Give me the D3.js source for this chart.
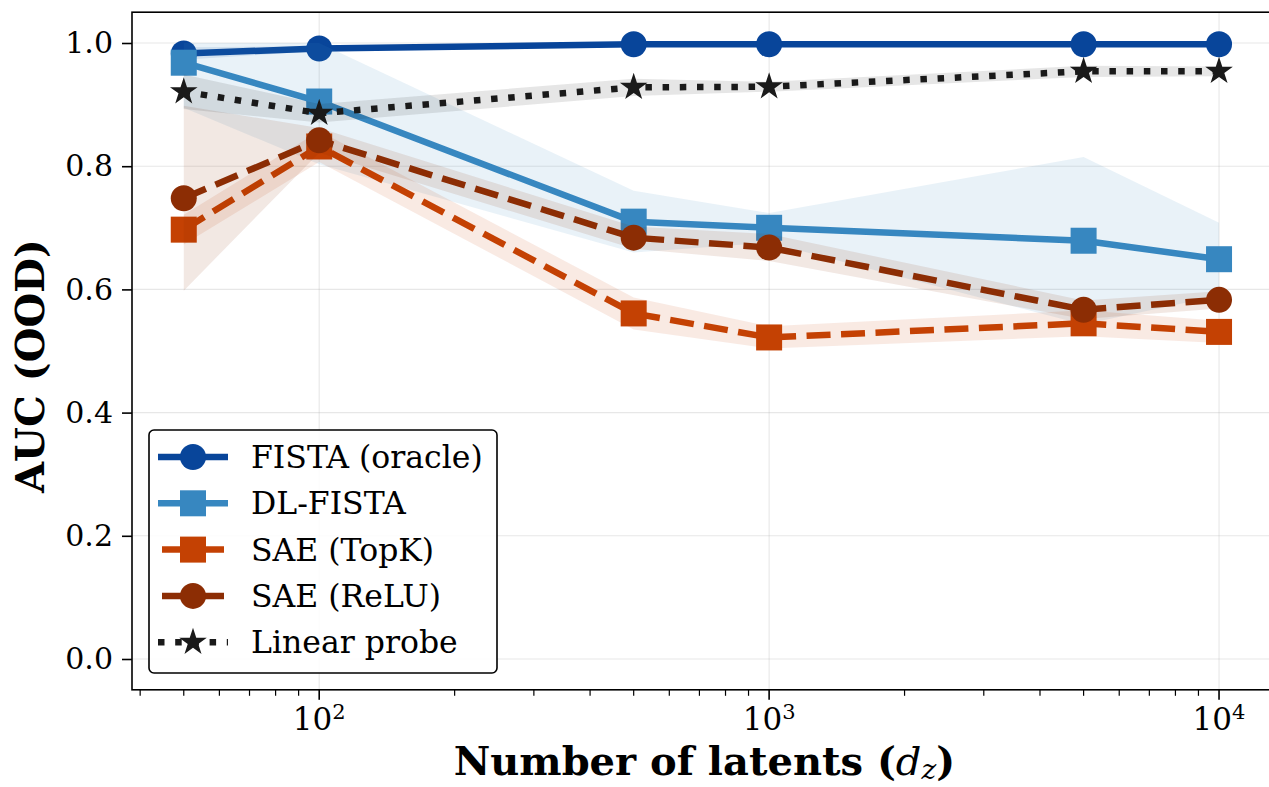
<!DOCTYPE html>
<html>
<head>
<meta charset="utf-8">
<script src="https://cdn.jsdelivr.net/npm/d3@7"></script>
<style>
  html, body { margin: 0; padding: 0; background: #fff; }
  svg { display: block; font-family: "DejaVu Serif", serif; }
</style>
</head>
<body>
<svg id="chart" width="1269" height="787"></svg>
<script>
// Number of latents evaluated
const latents = [50, 100, 500, 1000, 5000, 10000];

// Mean AUC (OOD) per method
const fistaMean  = [0.983, 0.991, 0.998, 0.998, 0.998, 0.998];
const dlMean     = [0.968, 0.905, 0.710, 0.700, 0.679, 0.649];
const topkMean   = [0.697, 0.832, 0.561, 0.522, 0.545, 0.531];
const reluMean   = [0.748, 0.842, 0.684, 0.668, 0.567, 0.583];
const probeMean  = [0.921, 0.886, 0.928, 0.929, 0.954, 0.954];

// Spread (std) per method, shaded around the mean
const fistaStd   = [0.010, 0.004, 0.003, 0.003, 0.003, 0.003];
const dlStd      = [0.073, 0.102, 0.050, 0.024, 0.136, 0.059];
const topkStd    = [0.024, 0.025, 0.026, 0.018, 0.021, 0.018];
const reluStd    = [0.150, 0.020, 0.018, 0.022, 0.015, 0.014];
const probeStd   = [0.028, 0.015, 0.014, 0.008, 0.009, 0.008];

const methodNames = ["FISTA (oracle)", "DL-FISTA", "SAE (TopK)", "SAE (ReLU)", "Linear probe"];
const yTicks = [0.0, 0.2, 0.4, 0.6, 0.8, 1.0];
const xMajorTicks = [100, 1000, 10000];

const series = [
  { name: methodNames[0], mean: fistaMean, std: fistaStd, color: "#08459a", marker: "circle", dash: null },
  { name: methodNames[1], mean: dlMean,    std: dlStd,    color: "#3787c0", marker: "square", dash: null },
  { name: methodNames[2], mean: topkMean,  std: topkStd,  color: "#c44103", marker: "square", dash: "dashed" },
  { name: methodNames[3], mean: reluMean,  std: reluStd,  color: "#8c2d04", marker: "circle", dash: "dashed" },
  { name: methodNames[4], mean: probeMean, std: probeStd, color: "#1a1a1a", marker: "star",   dash: "dotted" }
];

const svg = d3.select("#chart");
const L = 132, R = 1270.8, T = 12.2, B = 689.8;
const lw = 6.5;
const dashArr = { dashed: "24,10.5", dotted: "6.5,10.7" };

// log x with 5% padding in log space, linear y with fixed limits
const lx0 = Math.log10(50), lx1 = Math.log10(10000), pad = 0.05 * (lx1 - lx0);
const x = d3.scaleLog().domain([Math.pow(10, lx0 - pad), Math.pow(10, lx1 + pad)]).range([L, R]);
const y = d3.scaleLinear().domain([-0.05, 1.05]).range([B, T]);

const defs = svg.append("defs");
defs.append("clipPath").attr("id", "plotclip")
  .append("rect").attr("x", L).attr("y", T).attr("width", R - L).attr("height", B - T);

// grid
const grid = svg.append("g").attr("stroke", "#b0b0b0").attr("stroke-opacity", 0.3).attr("stroke-width", 1.1);
yTicks.forEach(v => grid.append("line").attr("x1", L).attr("x2", R).attr("y1", y(v)).attr("y2", y(v)));
xMajorTicks.forEach(v => grid.append("line").attr("x1", x(v)).attr("x2", x(v)).attr("y1", T).attr("y2", B));

const plot = svg.append("g").attr("clip-path", "url(#plotclip)");

function starPath(r) {
  const ri = r * 0.381966;
  const pts = [];
  for (let i = 0; i < 10; i++) {
    const a = -Math.PI / 2 + i * Math.PI / 5;
    const rr = i % 2 === 0 ? r : ri;
    pts.push([rr * Math.cos(a), rr * Math.sin(a)]);
  }
  return "M" + pts.map(p => p[0].toFixed(2) + "," + p[1].toFixed(2)).join("L") + "Z";
}

function drawMarker(g, type, cx, cy, color) {
  if (type === "circle") {
    g.append("circle").attr("cx", cx).attr("cy", cy).attr("r", 13).attr("fill", color);
  } else if (type === "square") {
    g.append("rect").attr("x", cx - 13).attr("y", cy - 13).attr("width", 26).attr("height", 26).attr("fill", color);
  } else {
    g.append("path").attr("transform", `translate(${cx},${cy})`).attr("d", starPath(14.5)).attr("fill", color);
  }
}

const area = d3.area()
  .x(d => x(d.x))
  .y0(d => y(Math.max(0, d.m - d.s)))
  .y1(d => y(Math.min(1, d.m + d.s)));
const line = d3.line().x(d => x(d.x)).y(d => y(d.m));

series.forEach(s => {
  const pts = latents.map((v, i) => ({ x: v, m: s.mean[i], s: s.std[i] }));
  plot.append("path").attr("d", area(pts)).attr("fill", s.color).attr("fill-opacity", 0.11);
  const p = plot.append("path").attr("d", line(pts)).attr("fill", "none")
    .attr("stroke", s.color).attr("stroke-width", lw).attr("stroke-linejoin", "round");
  if (s.dash) p.attr("stroke-dasharray", dashArr[s.dash]);
  pts.forEach(d => drawMarker(plot, s.marker, x(d.x), y(d.m), s.color));
});

// spines
const ax = svg.append("g").attr("stroke", "#000").attr("stroke-width", 1.6).attr("fill", "none");
ax.append("rect").attr("x", L).attr("y", T).attr("width", R - L).attr("height", B - T);

// y ticks
const yAxis = d3.axisLeft(y).tickValues(yTicks).tickFormat(d3.format(".1f")).tickSize(10).tickPadding(9);
const gy = svg.append("g").attr("transform", `translate(${L},0)`).call(yAxis);
gy.select(".domain").remove();
gy.selectAll(".tick line").attr("stroke", "#000").attr("stroke-width", 1.6);
gy.selectAll(".tick text").attr("font-family", "DejaVu Serif").attr("font-size", 30).attr("fill", "#000");

// x ticks (major + minor on log axis)
const minor = [];
for (let e = 1; e <= 4; e++) for (let k = 2; k <= 9; k++) {
  const v = k * Math.pow(10, e);
  if (v >= x.domain()[0] && v <= x.domain()[1]) minor.push(v);
}
const gx = svg.append("g").attr("transform", `translate(0,${B})`);
gx.selectAll("line.minor").data(minor).join("line").attr("class", "minor")
  .attr("x1", d => x(d)).attr("x2", d => x(d)).attr("y1", 0).attr("y2", 6)
  .attr("stroke", "#000").attr("stroke-width", 1.2);
gx.selectAll("line.major").data(xMajorTicks).join("line").attr("class", "major")
  .attr("x1", d => x(d)).attr("x2", d => x(d)).attr("y1", 0).attr("y2", 10)
  .attr("stroke", "#000").attr("stroke-width", 1.6);
const xt = gx.selectAll("text.tl").data(xMajorTicks).join("text").attr("class", "tl")
  .attr("x", d => x(d)).attr("y", 40).attr("text-anchor", "middle")
  .attr("font-size", 31).attr("fill", "#000");
xt.append("tspan").text("10");
xt.append("tspan").attr("dy", -11).attr("font-size", 21).text(d => Math.round(Math.log10(d)));

// axis titles
svg.append("text").attr("x", (L + R) / 2 + 3).attr("y", 775).attr("text-anchor", "middle")
  .attr("font-size", 40).attr("font-weight", "bold")
  .call(t => {
    t.append("tspan").text("Number of latents (");
    t.append("tspan").attr("font-style", "italic").attr("font-weight", "normal").text("d");
    t.append("tspan").attr("font-style", "italic").attr("font-weight", "normal").attr("font-size", 28).attr("dy", 4).text("z");
    t.append("tspan").attr("dy", -4).text(")");
  });
svg.append("text").attr("transform", `translate(44,366) rotate(-90)`)
  .attr("text-anchor", "middle").attr("font-size", 40).attr("font-weight", "bold").text("AUC (OOD)");

// legend
const lg = svg.append("g");
lg.append("rect").attr("x", 149).attr("y", 430).attr("width", 348).attr("height", 243).attr("rx", 5)
  .attr("fill", "#fff").attr("fill-opacity", 0.85).attr("stroke", "#000").attr("stroke-width", 1.6);
series.forEach((s, i) => {
  const cy = 457 + i * 46.3;
  const seg = lg.append("line").attr("x1", 158).attr("x2", 228).attr("y1", cy).attr("y2", cy)
    .attr("stroke", s.color).attr("stroke-width", lw);
  if (s.dash === "dashed") seg.attr("x1", 162).attr("x2", 224);
  if (s.dash === "dotted") seg.attr("stroke-dasharray", dashArr.dotted);
  drawMarker(lg, s.marker, 193, cy, s.color);
  lg.append("text").attr("x", 251).attr("y", cy + 11).attr("font-size", 31.5).attr("fill", "#000").text(s.name);
});
</script>
</body>
</html>
